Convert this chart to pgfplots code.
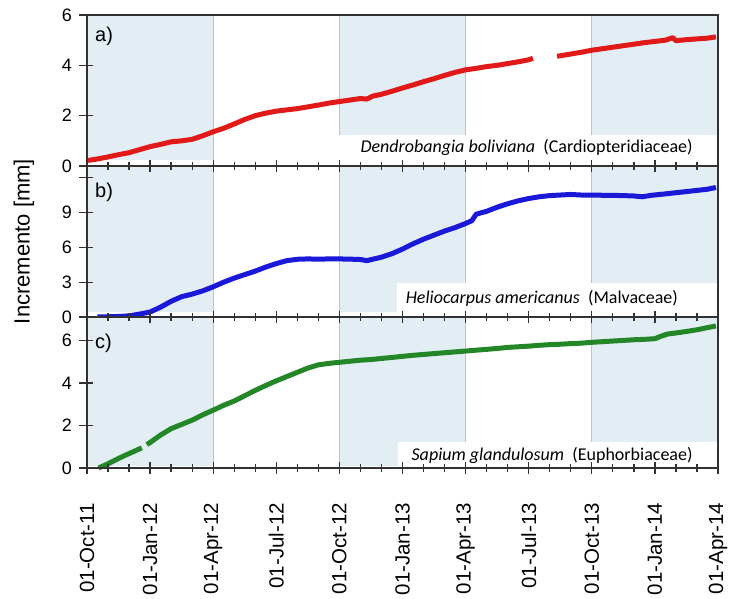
\documentclass[border=0pt]{standalone}
\usepackage{pgfplots}
\pgfplotsset{compat=1.18}
\usepackage{fontspec}
\setmainfont{Liberation Sans}
\newfontfamily\carl{Carlito}
\definecolor{wetbg}{RGB}{226,237,244}
\definecolor{bline}{RGB}{160,203,234}
\definecolor{axgray}{RGB}{50,50,50}
\definecolor{cred}{RGB}{225,25,25}
\definecolor{cblue}{RGB}{25,25,215}
\definecolor{cgreen}{RGB}{35,135,40}
\tikzset{
  halo/.style={white, line width=5pt, line join=round},
  datacurve/.style={line width=1.9pt, line join=round},
  plab/.style={anchor=north west, inner sep=0pt, font=\fontsize{20}{20}\selectfont},
  slab/.style={anchor=east, inner sep=0pt, font=\carl\fontsize{18}{18}\selectfont},
  tk/.style={axgray, line width=1.3pt},
}
\pgfplotsset{
  panel/.style={
    scale only axis, width=631pt, height=151pt,
    xmin=0, xmax=30,
    xtick={0,3,...,30},
    xticklabels={},
    tick align=center,
    major tick length=11pt,
    xtick pos=left, ytick pos=left,
    every tick/.style={axgray, line width=1.3pt},
    axis line style={axgray, line width=1.5pt},
    tick label style={font=\fontsize{18}{18}\selectfont},
    yticklabel style={xshift=-6pt},
    /pgf/number format/assume math mode=true,
    clip=false, axis on top,
    unbounded coords=jump,
  },
}
\newcommand\bottomticks{%
  \pgfplotsinvokeforeach{0,...,30}{\draw[tk] (axis cs:##1,0) ++(0,4pt) -- ++(0,-8pt);}%
  \pgfplotsinvokeforeach{0,3,...,30}{\draw[tk] (axis cs:##1,0) ++(0,6pt) -- ++(0,-12pt);}%
}
\newcommand\topticks[1]{%
  \pgfplotsinvokeforeach{0,...,30}{\draw[tk] (axis cs:##1,#1) -- ++(0,-4pt);}%
  \pgfplotsinvokeforeach{0,3,...,30}{\draw[tk] (axis cs:##1,#1) -- ++(0,-6pt);}%
}
\newcommand\yticks[1]{%
  \pgfplotsinvokeforeach{#1}{\draw[tk] (axis cs:0,##1) -- ++(-8pt,0);}%
}
\begin{document}
\begin{tikzpicture}
% ---------------- panel a
\begin{axis}[panel, name=a, at={(0,302pt)}, anchor=south west,
  ymin=0, ymax=6, ytick={0,2,4,6}]
\fill[wetbg] (axis cs:0,0.24) rectangle (axis cs:6,6);
\fill[wetbg] (axis cs:12,0.24) rectangle (axis cs:18,6);
\fill[wetbg] (axis cs:24,0.24) rectangle (axis cs:30,6);
\draw[bline, line width=1.2pt] (axis cs:6,0) -- (axis cs:6,6);
\draw[bline, line width=1.2pt] (axis cs:12,0) -- (axis cs:12,6);
\draw[bline, line width=1.2pt] (axis cs:18,0) -- (axis cs:18,6);
\draw[bline, line width=1.2pt] (axis cs:24,0) -- (axis cs:24,6);
\fill[white] (axis cs:12,0) rectangle (axis cs:30,1.25);
\pgfplotsinvokeforeach{halo,datacurve}{
\addplot[#1, cred] coordinates {
(0.05,0.22)(0.5,0.28)(1,0.36)(1.5,0.45)(2,0.53)(2.5,0.65)(3,0.77)(3.5,0.86)(4,0.96)(4.5,1.0)(5,1.06)(5.5,1.2)(6,1.36)(6.5,1.5)(7,1.67)(7.5,1.85)(8,2.0)(8.5,2.1)(9,2.18)(9.5,2.23)(10,2.28)(10.5,2.35)(11,2.42)(11.5,2.5)(12,2.56)(12.5,2.62)(13,2.68)(13.3,2.66)(13.6,2.78)(14,2.85)(14.5,2.97)(15,3.1)(15.5,3.22)(16,3.35)(16.5,3.47)(17,3.6)(17.5,3.72)(18,3.82)(18.5,3.88)(19,3.95)(19.5,4.0)(20,4.07)(20.5,4.14)(21,4.22)(21.2,4.28)
(21.7,nan)
(22.35,4.36)(23,4.45)(23.5,4.52)(24,4.6)(24.5,4.66)(25,4.72)(25.5,4.78)(26,4.84)(26.5,4.9)(27,4.95)(27.5,5.0)(27.85,5.1)(28.0,4.98)(28.5,5.02)(29,5.05)(29.5,5.08)(29.9,5.13)
};}
\node[plab] at (rel axis cs:0,1) [xshift=8pt, yshift=-12pt] {a)};
\node[slab] at (axis cs:28.8,0.72) {\itshape Dendrobangia boliviana\upshape~~(Cardiopteridiaceae)};
\bottomticks
\yticks{0,2,4,6}
\end{axis}
% ---------------- panel b
\begin{axis}[panel, name=b, at={(0,151pt)}, anchor=south west,
  ymin=0, ymax=13, ytick={0,3,6,9,12}, yticklabels={0,3,6,9,{}}]
\fill[wetbg] (axis cs:0,0.43) rectangle (axis cs:6,13);
\fill[wetbg] (axis cs:12,0.43) rectangle (axis cs:18,13);
\fill[wetbg] (axis cs:24,0.43) rectangle (axis cs:30,13);
\draw[bline, line width=1.2pt] (axis cs:6,0) -- (axis cs:6,13);
\draw[bline, line width=1.2pt] (axis cs:12,0) -- (axis cs:12,13);
\draw[bline, line width=1.2pt] (axis cs:18,0) -- (axis cs:18,13);
\draw[bline, line width=1.2pt] (axis cs:24,0) -- (axis cs:24,13);
\fill[white] (axis cs:14.74,0) rectangle (axis cs:30,2.93);
\pgfplotsinvokeforeach{halo,datacurve}{
\addplot[#1, cblue] coordinates {
(0.5,0)(1,0.02)(1.5,0.05)(2,0.1)(2.5,0.25)(3,0.43)(3.5,0.85)(4,1.35)(4.5,1.75)(5,1.97)(5.5,2.25)(6,2.6)(6.5,3.0)(7,3.35)(7.5,3.65)(8,3.95)(8.5,4.3)(9,4.6)(9.5,4.85)(10,4.97)(10.5,5.0)(11,4.98)(11.5,5.0)(12,5.0)(12.5,4.98)(13,4.95)(13.3,4.85)(13.6,4.98)(14,5.15)(14.5,5.45)(15,5.85)(15.5,6.3)(16,6.7)(16.5,7.05)(17,7.4)(17.5,7.7)(18,8.05)(18.3,8.3)(18.5,8.85)(19,9.1)(19.5,9.45)(20,9.75)(20.5,10.0)(21,10.2)(21.5,10.35)(22,10.45)(22.5,10.5)(23,10.55)(23.5,10.5)(24,10.5)(24.5,10.48)(25,10.47)(25.5,10.45)(26,10.42)(26.4,10.35)(26.8,10.47)(27.5,10.6)(28,10.7)(28.5,10.8)(29,10.9)(29.5,11.0)(29.9,11.15)
};}
\node[plab] at (rel axis cs:0,1) [xshift=8pt, yshift=-17pt] {b)};
\node[slab] at (axis cs:28.1,1.64) {\itshape Heliocarpus americanus\upshape~~(Malvaceae)};
\node[xshift=-63pt, rotate=90, font=\fontsize{22}{22}\selectfont] at (rel axis cs:0,0.5) {Incremento [mm]};
\bottomticks
\topticks{13}
\yticks{0,3,6,9,12}
\end{axis}
% ---------------- panel c
\begin{axis}[panel, name=c, at={(0,0)}, anchor=south west,
  ymin=0, ymax=7.1, ytick={0,2,4,6},
  xticklabels={01-Oct-11,01-Jan-12,01-Apr-12,01-Jul-12,01-Oct-12,01-Jan-13,01-Apr-13,01-Jul-13,01-Oct-13,01-Jan-14,01-Apr-14},
  xticklabel style={yshift=-26pt, rotate=90, anchor=east, font=\fontsize{20.5}{20.5}\selectfont}]
\fill[wetbg] (axis cs:0,0.08) rectangle (axis cs:6,7.1);
\fill[wetbg] (axis cs:12,0.08) rectangle (axis cs:18,7.1);
\fill[wetbg] (axis cs:24,0.08) rectangle (axis cs:30,7.1);
\draw[bline, line width=1.2pt] (axis cs:6,0) -- (axis cs:6,7.1);
\draw[bline, line width=1.2pt] (axis cs:12,0) -- (axis cs:12,7.1);
\draw[bline, line width=1.2pt] (axis cs:18,0) -- (axis cs:18,7.1);
\draw[bline, line width=1.2pt] (axis cs:24,0) -- (axis cs:24,7.1);
\fill[white] (axis cs:14.8,0) rectangle (axis cs:30,1.22);
\pgfplotsinvokeforeach{halo,datacurve}{
\addplot[#1, cgreen] coordinates {
(0.55,0)(1,0.2)(1.5,0.45)(2,0.68)(2.5,0.9)(2.6,0.95)
(2.7,nan)
(2.85,1.1)(3,1.2)(3.5,1.55)(4,1.85)(4.5,2.05)(5,2.25)(5.5,2.5)(6,2.72)(6.5,2.95)(7,3.15)(7.5,3.4)(8,3.65)(8.5,3.88)(9,4.1)(9.5,4.3)(10,4.5)(10.5,4.7)(11,4.85)(11.5,4.92)(12,4.97)(12.5,5.02)(13,5.07)(13.5,5.1)(14,5.15)(14.5,5.2)(15,5.25)(15.5,5.3)(16,5.34)(16.5,5.38)(17,5.42)(17.5,5.46)(18,5.5)(18.5,5.54)(19,5.58)(19.5,5.62)(20,5.67)(20.5,5.7)(21,5.73)(21.5,5.77)(22,5.8)(22.5,5.82)(23,5.85)(23.5,5.87)(24,5.91)(24.5,5.94)(25,5.97)(25.5,6.0)(26,6.03)(26.5,6.05)(27,6.08)(27.3,6.2)(27.6,6.3)(28,6.35)(28.5,6.42)(29,6.5)(29.5,6.6)(29.9,6.68)
};}
\node[plab] at (rel axis cs:0,1) [xshift=8pt, yshift=-17pt] {c)};
\node[slab] at (axis cs:28.8,0.61) {\itshape Sapium glandulosum\upshape~~(Euphorbiaceae)};
\bottomticks
\topticks{7.1}
\yticks{0,2,4,6}
\end{axis}
\path ([shift={(-87pt,15pt)}]a.north west) rectangle ([shift={(23pt,-129pt)}]c.south east);
\end{tikzpicture}
\end{document}
